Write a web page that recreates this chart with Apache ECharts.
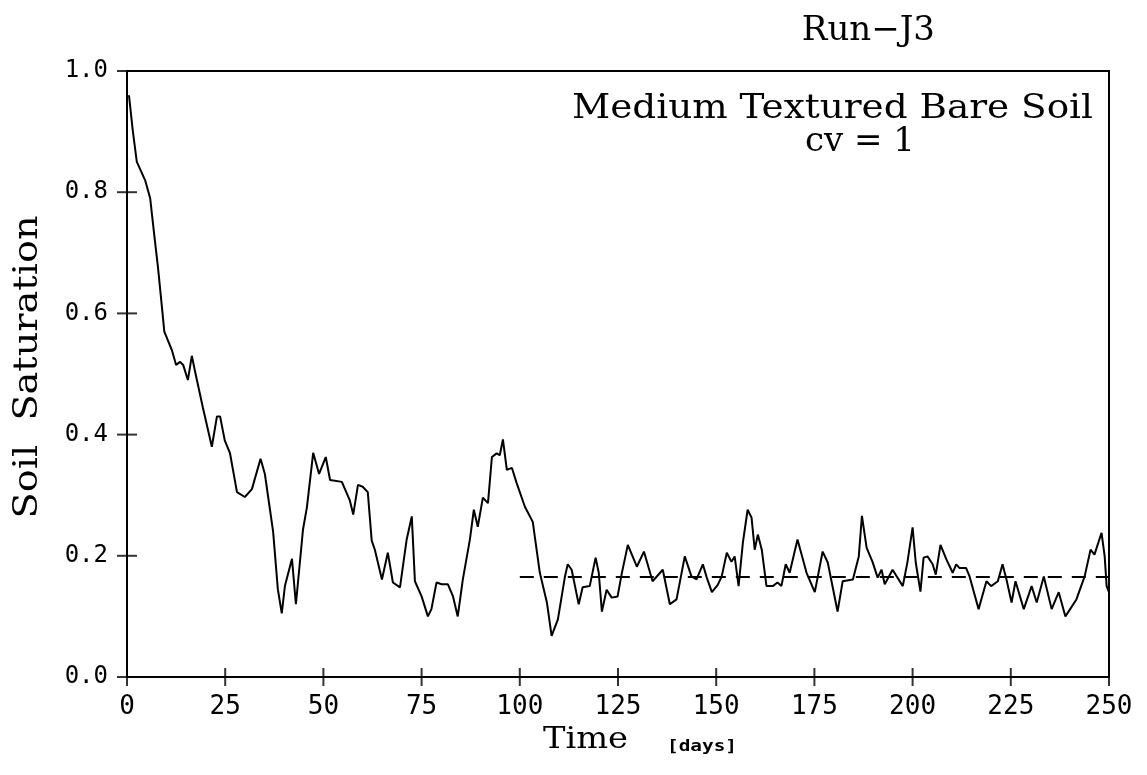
<!DOCTYPE html>
<html>
<head>
<meta charset="utf-8">
<script src="https://cdn.jsdelivr.net/npm/echarts@6/dist/echarts.min.js"></script>
<style>
  html, body { margin: 0; padding: 0; background: #fff; }
  #chart { width: 1147px; height: 775px; }
</style>
</head>
<body>
<div id="chart"></div>
<script>
// data
const days = [
  0.5, 1.5, 2.5, 4.6, 5.9, 7.1, 7.9, 8.9, 9.5, 11.4, 12.5, 13.5, 14.3, 15.5, 16.5, 17.3,
  19.3, 21.6, 22.9, 23.7, 24.9, 26.2, 28, 30, 31.8, 34, 35.1, 37.2, 38.4, 39.4, 40.2, 42,
  43, 44.8, 45.8, 47.4, 48.9, 50.6, 51.7, 54.7, 56.7, 57.6, 58.8, 60, 61.3, 62.3, 63.1, 63.6,
  64.9, 66.4, 67.7, 69.5, 71.2, 72.5, 73.3, 75, 76.6, 77.5, 78.8, 80.1, 81.7, 83, 84.2, 85.5,
  87.3, 88.3, 89.3, 90.6, 91.9, 92.9, 94.1, 94.9, 95.7, 96.7, 98, 99.2, 101.3, 103.3, 105.1, 106.9,
  108.1, 109.7, 111.5, 112.2, 113.2, 115, 116, 117.8, 119.3, 120.1, 120.9, 122.1, 123.4, 124.9, 125.9, 127.5,
  129.8, 131.6, 133.8, 136.4, 138.2, 139.9, 142, 143.7, 145, 146.6, 147.6, 148.9, 150.4, 151.4, 152.7, 153.9,
  154.7, 155.7, 156.8, 158, 159, 159.8, 160.6, 161.6, 162.8, 164.4, 165.6, 166.6, 167.7, 168.7, 170.7, 173,
  175.1, 177.1, 178.4, 180.9, 182.2, 184.8, 186.3, 187.1, 188.3, 189.8, 191.1, 192.1, 192.9, 194.9, 197.5, 198.7,
  200, 200.8, 202, 202.8, 203.8, 205.1, 205.9, 207.1, 208.6, 210.2, 211.1, 211.9, 213.6, 214.5, 216.8, 218.8,
  220, 221.7, 222.9, 223.9, 225.2, 226.2, 228.3, 230.3, 231.6, 233.4, 235.4, 237.2, 238.9, 241.7, 243.8, 245.3,
  246.3, 248.1, 248.9, 249.4, 250
];
const saturation = [
  0.96, 0.90, 0.85, 0.82, 0.79, 0.72, 0.675, 0.61, 0.57, 0.54, 0.515, 0.52, 0.515, 0.49, 0.53, 0.505,
  0.445, 0.38, 0.43, 0.43, 0.39, 0.37, 0.305, 0.297, 0.31, 0.36, 0.335, 0.24, 0.145, 0.105, 0.15, 0.195,
  0.12, 0.243, 0.28, 0.37, 0.335, 0.363, 0.325, 0.322, 0.292, 0.268, 0.317, 0.314, 0.305, 0.225, 0.21, 0.213,
  0.161, 0.205, 0.156, 0.148, 0.227, 0.265, 0.158, 0.133, 0.1, 0.112, 0.156, 0.153, 0.153, 0.133, 0.1, 0.161,
  0.227, 0.276, 0.248, 0.296, 0.287, 0.363, 0.369, 0.366, 0.392, 0.342, 0.345, 0.32, 0.281, 0.256, 0.172, 0.123,
  0.068, 0.095, 0.166, 0.186, 0.177, 0.12, 0.148, 0.15, 0.197, 0.172, 0.108, 0.144, 0.131, 0.133, 0.169, 0.218,
  0.182, 0.207, 0.158, 0.177, 0.12, 0.128, 0.199, 0.166, 0.161, 0.186, 0.164, 0.14, 0.152, 0.166, 0.205, 0.19,
  0.199, 0.15, 0.222, 0.276, 0.263, 0.21, 0.235, 0.21, 0.15, 0.15, 0.156, 0.15, 0.186, 0.172, 0.227, 0.172,
  0.14, 0.207, 0.189, 0.108, 0.158, 0.161, 0.199, 0.266, 0.213, 0.19, 0.164, 0.177, 0.153, 0.177, 0.15, 0.19,
  0.247, 0.189, 0.141, 0.197, 0.199, 0.186, 0.169, 0.218, 0.194, 0.172, 0.186, 0.18, 0.18, 0.166, 0.112, 0.158,
  0.15, 0.158, 0.186, 0.161, 0.123, 0.158, 0.112, 0.15, 0.123, 0.166, 0.112, 0.14, 0.1, 0.128, 0.166, 0.21,
  0.202, 0.238, 0.199, 0.15, 0.14
];
// dashed mean level over the last 150 days
const meanDays = [100, 250];
const meanLevel = [0.165, 0.165];

const xTicks = [0, 25, 50, 75, 100, 125, 150, 175, 200, 225, 250];
const yTicks = [0.0, 0.2, 0.4, 0.6, 0.8, 1.0];

const serif = "DejaVu Serif";
const mono = "DejaVu Sans Mono";

// stretch a text horizontally so it covers a given width (the scan's font is wide)
const ctx = document.createElement("canvas").getContext("2d");
function stretch(text, font, width) {
  ctx.font = font;
  return width / ctx.measureText(text).width;
}
function label(text, font, x, y, width, opts) {
  const o = opts || {};
  return {
    type: "text",
    x: x, y: y,
    rotation: o.rotation || 0,
    scaleX: width ? stretch(text, font, width) : 1,
    z: 10,
    style: {
      text: text, font: font, fill: "#000",
      textAlign: o.align || "left", textVerticalAlign: "middle"
    }
  };
}

const chart = echarts.init(document.getElementById("chart"));

chart.setOption({
  backgroundColor: "#fff",
  animation: false,
  grid: { left: 127, right: 38, top: 71, bottom: 98, show: true, borderColor: "#000", borderWidth: 2 },
  xAxis: {
    type: "value", min: 0, max: 250, interval: 25,
    splitLine: { show: false },
    axisLine: { show: true, lineStyle: { color: "#000", width: 2 } },
    axisTick: { show: false },
    axisLabel: { fontFamily: mono, fontSize: 26, color: "#000", margin: 17, customValues: xTicks }
  },
  yAxis: {
    type: "value", min: 0, max: 1, interval: 0.2,
    splitLine: { show: false },
    axisLine: { show: true, lineStyle: { color: "#000", width: 2 } },
    axisTick: { show: false },
    axisLabel: {
      fontFamily: mono, fontSize: 24, color: "#000", margin: 19,
      formatter: (v) => v.toFixed(1), customValues: yTicks
    }
  },
  graphic: [
    label("Run\u2212J3", "34px " + serif, 935, 31, 0, { align: "right" }),
    label("Medium Textured Bare Soil", "34px " + serif, 572, 109, 521),
    label("cv = 1", "34px " + serif, 915, 142, 0, { align: "right" }),
    label("Soil  Saturation", "34px " + serif, 28, 367, 303, { align: "center", rotation: Math.PI / 2 }),
    label("Time", "30px " + serif, 543, 740, 85),
    label("[days]", "bold 16px " + mono, 667, 747, 70)
  ],
  series: [
    {
      type: "line",
      data: days.map((d, i) => [d, saturation[i]]),
      showSymbol: false,
      lineStyle: { color: "#000", width: 2 },
      z: 3
    },
    {
      type: "line",
      data: meanDays.map((d, i) => [d, meanLevel[i]]),
      showSymbol: false,
      lineStyle: { color: "#000", width: 2, type: [14, 10] },
      z: 2
    },
    {
      // crossing tick marks on the bottom axis
      type: "scatter",
      data: xTicks.map((v) => [v, 0]),
      symbol: "rect", symbolSize: [2, 18],
      itemStyle: { color: "#000" },
      clip: false, silent: true, z: 4
    },
    {
      // crossing tick marks on the left axis
      type: "scatter",
      data: yTicks.map((v) => [0, v]),
      symbol: "rect", symbolSize: [20, 2],
      itemStyle: { color: "#000" },
      clip: false, silent: true, z: 4
    }
  ]
});
</script>
</body>
</html>
